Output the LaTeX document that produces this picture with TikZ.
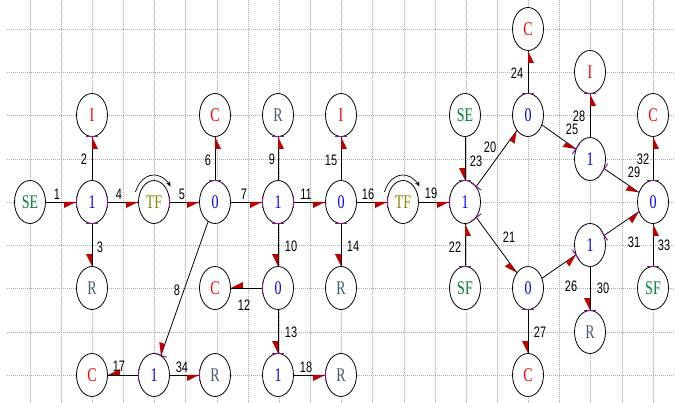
\documentclass[tikz,border=0pt]{standalone}
\usepackage{fontspec}
\usepackage{graphicx}
\setmainfont{Liberation Serif}
\newfontfamily\numfont{Liberation Sans}
\usetikzlibrary{shapes.geometric,calc,arrows.meta}
\definecolor{gridc}{RGB}{170,170,170}
\definecolor{segreen}{RGB}{0,128,50}
\definecolor{jblue}{RGB}{0,0,255}
\definecolor{tfolive}{RGB}{140,135,0}
\definecolor{cred}{RGB}{255,0,0}
\definecolor{rgray}{RGB}{70,90,120}
\definecolor{harred}{RGB}{190,0,0}
\definecolor{causp}{RGB}{140,20,140}
\newcommand\vstr[1]{\scalebox{1}[1.38]{#1}}
\newcommand\bnd[3]{%
  \draw[bondline] (#1) -- coordinate[pos=0] (bs) coordinate[pos=1] (bt) (#2);
  \fill[harred] (bt) -- ($(bt)!12pt!(bs)$) -- ($(bt)!12pt!(bs)!6pt!-90:(bt)$) -- cycle;
  \ifx F#3
    \draw[caus] ($(bs)!6pt!90:(bt)$) -- ($(bs)!6pt!-90:(bt)$);
  \else
    \draw[caus] ($(bt)!6pt!90:(bs)$) -- ($(bt)!6pt!-90:(bs)$);
  \fi}
\newcommand\tfarc[1]{%
  \draw[line width=0.7pt,-{Stealth[length=5pt,width=4.5pt]}] ($(#1.center)+(158:20pt and 27pt)$) arc[start angle=158,end angle=35,x radius=20pt,y radius=27pt];}
\begin{document}
\begin{tikzpicture}[x=1pt,y=-1pt,
  bn/.style={draw=black,fill=white,line width=0.8pt,ellipse,minimum width=31pt,minimum height=43pt,inner sep=0pt,font=\fontsize{14}{14}\selectfont},
  bondline/.style={line width=0.8pt,black},
  caus/.style={line width=1pt,causp},
  lbl/.style={font=\numfont\fontsize{11}{11}\selectfont,inner sep=0pt,black},
  gridline/.style={gridc,line width=0.6pt,dash pattern=on 1pt off 1pt}]
\useasboundingbox (0,0) rectangle (675,403);
\fill[white] (0,0) rectangle (675,403);
% grid
\foreach \k in {0,...,20} \draw[gridline] (30+31.15*\k,0) -- (30+31.15*\k,403);
\foreach \k in {0,...,8} \draw[gridline] (7,29+43.3*\k) -- (675,29+43.3*\k);
% nodes
\node[bn,text=segreen] (SE1) at (30,202) {\vstr{SE}};
\node[bn,text=jblue] (J1) at (92,202) {\vstr{1}};
\node[bn,text=cred] (I1) at (92,115) {\vstr{I}};
\node[bn,text=rgray] (R1) at (92,288) {\vstr{R}};
\node[bn,text=tfolive] (TF1) at (154,202) {\vstr{TF}};
\node[bn,text=jblue] (Z1) at (215,202) {\vstr{0}};
\node[bn,text=cred] (C1) at (215,115) {\vstr{C}};
\node[bn,text=jblue] (J2) at (278,202) {\vstr{1}};
\node[bn,text=rgray] (R2) at (278,115) {\vstr{R}};
\node[bn,text=jblue] (Z2) at (341,202) {\vstr{0}};
\node[bn,text=cred] (I2) at (341,115) {\vstr{I}};
\node[bn,text=rgray] (R3) at (341,288) {\vstr{R}};
\node[bn,text=cred] (C2) at (215,288) {\vstr{C}};
\node[bn,text=jblue] (Z3) at (278,288) {\vstr{0}};
\node[bn,text=jblue] (J3) at (154,375) {\vstr{1}};
\node[bn,text=cred] (C3) at (92,375) {\vstr{C}};
\node[bn,text=rgray] (R4) at (215,375) {\vstr{R}};
\node[bn,text=jblue] (J4) at (278,375) {\vstr{1}};
\node[bn,text=rgray] (R5) at (341,375) {\vstr{R}};
\node[bn,text=tfolive] (TF2) at (403,202) {\vstr{TF}};
\node[bn,text=jblue] (J5) at (465,202) {\vstr{1}};
\node[bn,text=segreen] (SE2) at (465,115) {\vstr{SE}};
\node[bn,text=segreen] (SF1) at (465,288) {\vstr{SF}};
\node[bn,text=jblue] (Z4) at (528,115) {\vstr{0}};
\node[bn,text=cred] (C4) at (528,29) {\vstr{C}};
\node[bn,text=jblue] (J6) at (590,159) {\vstr{1}};
\node[bn,text=cred] (I3) at (590,72) {\vstr{I}};
\node[bn,text=jblue] (Z5) at (653,202) {\vstr{0}};
\node[bn,text=cred] (C5) at (653,115) {\vstr{C}};
\node[bn,text=segreen] (SF2) at (653,288) {\vstr{SF}};
\node[bn,text=jblue] (J7) at (590,245) {\vstr{1}};
\node[bn,text=rgray] (R6) at (590,332) {\vstr{R}};
\node[bn,text=jblue] (Z6) at (528,288) {\vstr{0}};
\node[bn,text=cred] (C6) at (528,375) {\vstr{C}};
% bonds
\bnd{SE1}{J1}{T}
\bnd{J1}{I1}{T}
\bnd{J1}{R1}{F}
\bnd{J1}{TF1}{F}
\bnd{TF1}{Z1}{F}
\bnd{Z1}{C1}{F}
\bnd{Z1}{J2}{T}
\bnd{Z1}{J3}{T}
\bnd{J2}{R2}{T}
\bnd{J2}{Z3}{F}
\bnd{J2}{Z2}{F}
\bnd{Z3}{C2}{F}
\bnd{Z3}{J4}{T}
\bnd{Z2}{R3}{F}
\bnd{Z2}{I2}{T}
\bnd{Z2}{TF2}{T}
\bnd{J3}{C3}{F}
\bnd{J4}{R5}{T}
\bnd{TF2}{J5}{T}
\bnd{J5}{Z4}{F}
\bnd{J5}{Z6}{F}
\bnd{SF1}{J5}{F}
\bnd{SE2}{J5}{T}
\bnd{Z4}{C4}{F}
\bnd{Z4}{J6}{T}
\bnd{Z6}{J7}{T}
\bnd{Z6}{C6}{F}
\bnd{J6}{I3}{T}
\bnd{J6}{Z5}{F}
\bnd{J7}{R6}{T}
\bnd{J7}{Z5}{F}
\bnd{Z5}{C5}{F}
\bnd{SF2}{Z5}{F}
\bnd{J3}{R4}{T}
% TF rotation arrows
\tfarc{TF1}
\tfarc{TF2}
% labels
\node[lbl] (l1) at (57,194) {\vstr{1}};
\node[lbl] (l2) at (84,159) {\vstr{2}};
\node[lbl] (l3) at (100,247) {\vstr{3}};
\node[lbl] (l4) at (119,194) {\vstr{4}};
\node[lbl] (l5) at (182,194) {\vstr{5}};
\node[lbl] (l6) at (208,160) {\vstr{6}};
\node[lbl] (l7) at (244,194) {\vstr{7}};
\node[lbl] (l8) at (177,290) {\vstr{8}};
\node[lbl] (l9) at (272,159) {\vstr{9}};
\node[lbl] (l10) at (291,246) {\vstr{10}};
\node[lbl] (l11) at (306,194) {\vstr{11}};
\node[lbl] (l12) at (244,305) {\vstr{12}};
\node[lbl] (l13) at (291,332) {\vstr{13}};
\node[lbl] (l14) at (353,246) {\vstr{14}};
\node[lbl] (l15) at (331,160) {\vstr{15}};
\node[lbl] (l16) at (368,194) {\vstr{16}};
\node[lbl] (l17) at (119,366) {\vstr{17}};
\node[lbl] (l18) at (306,367) {\vstr{18}};
\node[lbl] (l19) at (431,193) {\vstr{19}};
\node[lbl] (l20) at (490,147) {\vstr{20}};
\node[lbl] (l21) at (509,237) {\vstr{21}};
\node[lbl] (l22) at (455,247) {\vstr{22}};
\node[lbl] (l23) at (476,161) {\vstr{23}};
\node[lbl] (l24) at (517,73) {\vstr{24}};
\node[lbl] (l25) at (572,129) {\vstr{25}};
\node[lbl] (l26) at (571,286) {\vstr{26}};
\node[lbl] (l27) at (540,332) {\vstr{27}};
\node[lbl] (l28) at (579,116) {\vstr{28}};
\node[lbl] (l29) at (634,172) {\vstr{29}};
\node[lbl] (l30) at (603,288) {\vstr{30}};
\node[lbl] (l31) at (634,242) {\vstr{31}};
\node[lbl] (l32) at (643,159) {\vstr{32}};
\node[lbl] (l33) at (664,245) {\vstr{33}};
\node[lbl] (l34) at (182,367) {\vstr{34}};
\end{tikzpicture}
\end{document}
